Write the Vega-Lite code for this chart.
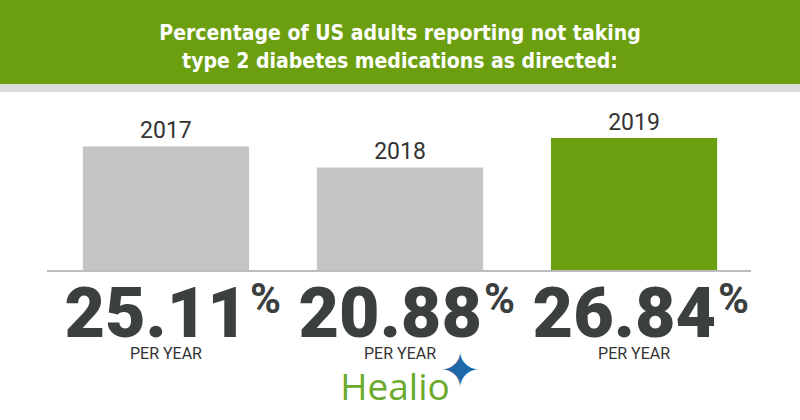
{
  "$schema": "https://vega.github.io/schema/vega-lite/v6.json",
  "width": 800,
  "height": 420,
  "autosize": {"type": "fit", "contains": "padding"},
  "padding": 0,
  "background": "#ffffff",
  "config": {"view": {"stroke": null}},
  "datasets": {
    "bars": [
      {"year": "2017", "value": 25.11},
      {"year": "2018", "value": 20.88},
      {"year": "2019", "value": 26.84}
    ],
    "header": [
      {"title": "Percentage of US adults reporting not taking\ntype 2 diabetes medications as directed:"}
    ],
    "brand": [
      {"name": "Healio", "star": "✦"}
    ]
  },
  "layer": [
    {
      "data": {"name": "header"},
      "mark": {"type": "rect", "color": "#6b9f10"},
      "encoding": {
        "y": {"datum": 54.64, "type": "quantitative", "scale": {"domain": [-30.04, 54.64], "nice": false, "zero": false}, "axis": null},
        "y2": {"datum": 37.7}
      }
    },
    {
      "data": {"name": "header"},
      "mark": {"type": "rect", "color": "#dcdcdc"},
      "encoding": {
        "y": {"datum": 37.7, "type": "quantitative"},
        "y2": {"datum": 36.09}
      }
    },
    {
      "data": {"name": "header"},
      "mark": {"type": "text", "color": "#ffffff", "font": "DejaVu Sans Condensed", "fontWeight": "bold", "fontSize": 21, "lineBreak": "\n", "lineHeight": 28, "baseline": "alphabetic", "align": "center"},
      "encoding": {
        "y": {"datum": 46.57, "type": "quantitative"},
        "text": {"field": "title"}
      }
    },
    {
      "data": {"name": "bars"},
      "mark": {"type": "bar"},
      "encoding": {
        "x": {"field": "year", "type": "nominal", "sort": null, "scale": {"paddingInner": 0.29, "paddingOuter": 0.354}, "axis": null},
        "y": {"field": "value", "type": "quantitative"},
        "color": {"field": "year", "type": "nominal", "scale": {"domain": ["2017", "2018", "2019"], "range": ["#c4c4c4", "#c4c4c4", "#6b9f10"]}, "legend": null}
      }
    },
    {
      "data": {"name": "header"},
      "mark": {"type": "rule", "color": "#bdbdbd", "strokeWidth": 2, "xOffset": -119, "x2Offset": 117},
      "encoding": {
        "x": {"datum": "2017", "type": "nominal"},
        "x2": {"datum": "2019"},
        "y": {"datum": 0, "type": "quantitative"}
      }
    },
    {
      "data": {"name": "bars"},
      "mark": {"type": "text", "font": "Roboto", "fontSize": 23, "color": "#333333", "baseline": "alphabetic", "dy": -8},
      "encoding": {
        "x": {"field": "year", "type": "nominal"},
        "y": {"field": "value", "type": "quantitative"},
        "text": {"field": "year"}
      }
    },
    {
      "data": {"name": "bars"},
      "mark": {"type": "text", "font": "Roboto", "fontWeight": 900, "fontSize": 70, "color": "#3b3f40", "baseline": "alphabetic", "align": "right", "dx": 82},
      "encoding": {
        "x": {"field": "year", "type": "nominal"},
        "y": {"datum": -13.3, "type": "quantitative"},
        "text": {"field": "value", "type": "quantitative", "format": ".2f"}
      }
    },
    {
      "data": {"name": "bars"},
      "mark": {"type": "text", "font": "Roboto", "fontWeight": "bold", "fontSize": 42, "color": "#3b3f40", "baseline": "alphabetic", "align": "left", "dx": 84, "text": "%"},
      "encoding": {
        "x": {"field": "year", "type": "nominal"},
        "y": {"datum": -8.5, "type": "quantitative"}
      }
    },
    {
      "data": {"name": "bars"},
      "mark": {"type": "text", "font": "Roboto", "fontSize": 16, "color": "#333333", "baseline": "alphabetic", "align": "center", "text": "PER YEAR"},
      "encoding": {
        "x": {"field": "year", "type": "nominal"},
        "y": {"datum": -17.8, "type": "quantitative"}
      }
    },
    {
      "data": {"name": "brand"},
      "mark": {"type": "text", "font": "Open Sans", "fontSize": 37, "color": "#6aab2c", "baseline": "alphabetic", "align": "center", "dx": -5},
      "encoding": {
        "x": {"datum": "2018", "type": "nominal"},
        "y": {"datum": -26.0, "type": "quantitative"},
        "text": {"field": "name"}
      }
    },
    {
      "data": {"name": "brand"},
      "mark": {"type": "text", "font": "DejaVu Sans", "fontSize": 48, "color": "#1f68a8", "baseline": "middle", "align": "center", "dx": 60},
      "encoding": {
        "x": {"datum": "2018", "type": "nominal"},
        "y": {"datum": -20.6, "type": "quantitative"},
        "text": {"field": "star"}
      }
    }
  ]
}
